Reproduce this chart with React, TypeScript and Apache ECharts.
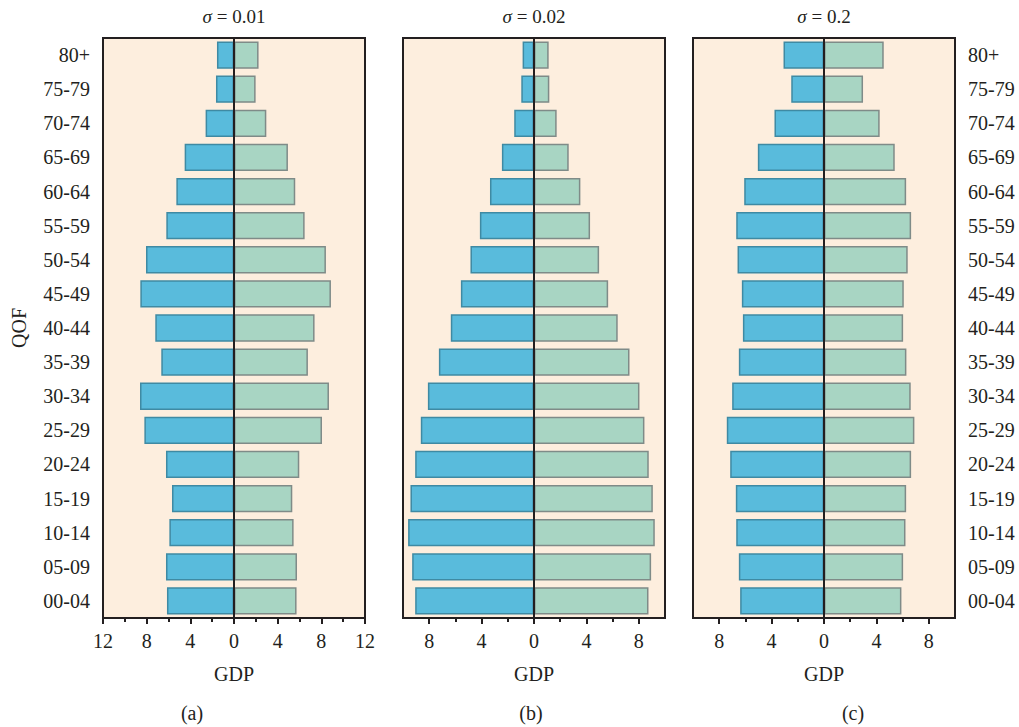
import React, { useEffect, useRef } from "react";
import * as echarts from "echarts";

const categories = ["00-04", "05-09", "10-14", "15-19", "20-24", "25-29", "30-34", "35-39", "40-44", "45-49", "50-54", "55-59", "60-64", "65-69", "70-74", "75-79", "80+"];

const blueA = [6.14, 6.23, 5.92, 5.68, 6.23, 8.21, 8.61, 6.66, 7.21, 8.58, 8.06, 6.2, 5.28, 4.52, 2.6, 1.65, 1.56];
const greenA = [5.73, 5.77, 5.46, 5.34, 5.98, 8.06, 8.7, 6.77, 7.38, 8.88, 8.42, 6.47, 5.61, 4.94, 2.96, 1.98, 2.25];
const blueB = [9.07, 9.3, 9.61, 9.43, 9.07, 8.64, 8.1, 7.26, 6.35, 5.58, 4.85, 4.13, 3.36, 2.45, 1.51, 0.97, 0.87];
const greenB = [8.74, 8.94, 9.22, 9.07, 8.76, 8.43, 8.05, 7.29, 6.39, 5.66, 4.97, 4.28, 3.54, 2.65, 1.73, 1.17, 1.12];
const blueC = [6.4, 6.5, 6.7, 6.73, 7.16, 7.42, 7.01, 6.5, 6.19, 6.27, 6.6, 6.7, 6.09, 5.05, 3.78, 2.5, 3.09];
const greenC = [5.91, 6.04, 6.22, 6.27, 6.65, 6.9, 6.62, 6.29, 6.04, 6.09, 6.39, 6.65, 6.27, 5.4, 4.25, 2.98, 4.56];

const panelTitles = ["0.01", "0.02", "0.2"];
const panelLetters = ["(a)", "(b)", "(c)"];
const axisLimits = [12, 10, 10];
const majorTicksA = [-12, -8, -4, 0, 4, 8, 12];
const minorTicksA = [-10, -6, -2, 2, 6, 10];
const majorTicksBC = [-8, -4, 0, 4, 8];
const minorTicksBC = [-6, -2, 2, 6];

const FONT = '"Liberation Serif", "DejaVu Serif", serif';
const INK = "#231f20";

export default function App() {
  const ref = useRef<HTMLDivElement>(null);
  useEffect(() => {
    if (!ref.current) return;
    const chart = echarts.init(ref.current, undefined, { renderer: "svg" });
    const lefts = [103, 403, 693];
    const letterX = [192, 531, 853];
    const W = 262;
    const top = 38;
    const H = 580;
    const blues = [blueA, blueB, blueC];
    const greens = [greenA, greenB, greenC];
    const grids: any[] = [];
    const xAxes: any[] = [];
    const yAxes: any[] = [];
    const series: any[] = [];
    const graphics: any[] = [];
    for (let i = 0; i < 3; i++) {
      grids.push({
        left: lefts[i],
        top,
        width: W,
        height: H,
        show: true,
        backgroundColor: "#fdeede",
        borderColor: INK,
        borderWidth: 2,
      });
      const lim = axisLimits[i];
      const major = i === 0 ? majorTicksA : majorTicksBC;
      const minor = i === 0 ? minorTicksA : minorTicksBC;
      xAxes.push({
        type: "value",
        gridIndex: i,
        position: "bottom",
        min: -lim,
        max: lim,
        name: "GDP",
        nameLocation: "middle",
        nameGap: 46,
        nameTextStyle: { fontFamily: FONT, fontSize: 20, color: INK },
        axisLine: { show: false },
        splitLine: { show: false },
        axisTick: { show: true, customValues: major, length: 6, lineStyle: { color: INK, width: 2 } },
        axisLabel: {
          customValues: major,
          formatter: (v: number) => String(Math.abs(v)),
          fontFamily: FONT,
          fontSize: 20,
          color: INK,
          margin: 13,
        },
      });
      xAxes.push({
        type: "value",
        gridIndex: i,
        position: "bottom",
        min: -lim,
        max: lim,
        axisLine: { show: false },
        splitLine: { show: false },
        axisTick: { show: true, customValues: minor, length: 4, lineStyle: { color: INK, width: 2 } },
        axisLabel: { show: false },
      });
      yAxes.push({
        type: "category",
        gridIndex: i,
        data: categories,
        position: i === 2 ? "right" : "left",
        name: i === 0 ? "QOF" : "",
        nameLocation: "middle",
        nameGap: 74,
        nameRotate: 90,
        nameTextStyle: { fontFamily: FONT, fontSize: 20, color: INK },
        axisLine: { show: false },
        axisTick: {
          show: i !== 1,
          alignWithLabel: true,
          length: 5,
          lineStyle: { color: INK, width: 2 },
        },
        axisLabel: {
          show: i !== 1,
          fontFamily: FONT,
          fontSize: 20,
          color: INK,
          margin: 13,
        },
        splitLine: { show: false },
      });
      series.push({
        type: "bar",
        name: "left" + i,
        xAxisIndex: i * 2,
        yAxisIndex: i,
        data: blues[i].map((v) => -v),
        barWidth: "80%",
        barGap: "-100%",
        itemStyle: { color: "#59bbdc", borderColor: "#3f8aa3", borderWidth: 1.5 },
      });
      series.push({
        type: "bar",
        name: "right" + i,
        xAxisIndex: i * 2,
        yAxisIndex: i,
        data: greens[i],
        barWidth: "80%",
        barGap: "-100%",
        itemStyle: { color: "#a8d5c3", borderColor: "#7f8b88", borderWidth: 1.5 },
        markLine: {
          silent: true,
          symbol: "none",
          label: { show: false },
          lineStyle: { color: INK, width: 2, type: "solid" },
          data: [{ xAxis: 0 }],
        },
      });
      const cx = lefts[i] + W / 2;
      graphics.push({
        type: "text",
        x: cx,
        y: 16,
        style: {
          text: "{i|σ} = " + panelTitles[i],
          align: "center",
          verticalAlign: "middle",
          fontFamily: FONT,
          fontSize: 19,
          fill: INK,
          rich: { i: { fontStyle: "italic", fontFamily: FONT, fontSize: 19, fill: INK } },
        },
      });
      graphics.push({
        type: "text",
        x: letterX[i],
        y: 713,
        style: {
          text: panelLetters[i],
          align: "center",
          verticalAlign: "middle",
          fontFamily: FONT,
          fontSize: 20,
          fill: INK,
        },
      });
    }
    chart.setOption({
      animation: false,
      grid: grids,
      xAxis: xAxes,
      yAxis: yAxes,
      series,
      graphic: graphics,
    });
    return () => chart.dispose();
  }, []);
  return (
    <div
      ref={ref}
      style={{ position: "absolute", left: 0, top: 0, width: 1019, height: 727, background: "#fff" }}
    />
  );
}
